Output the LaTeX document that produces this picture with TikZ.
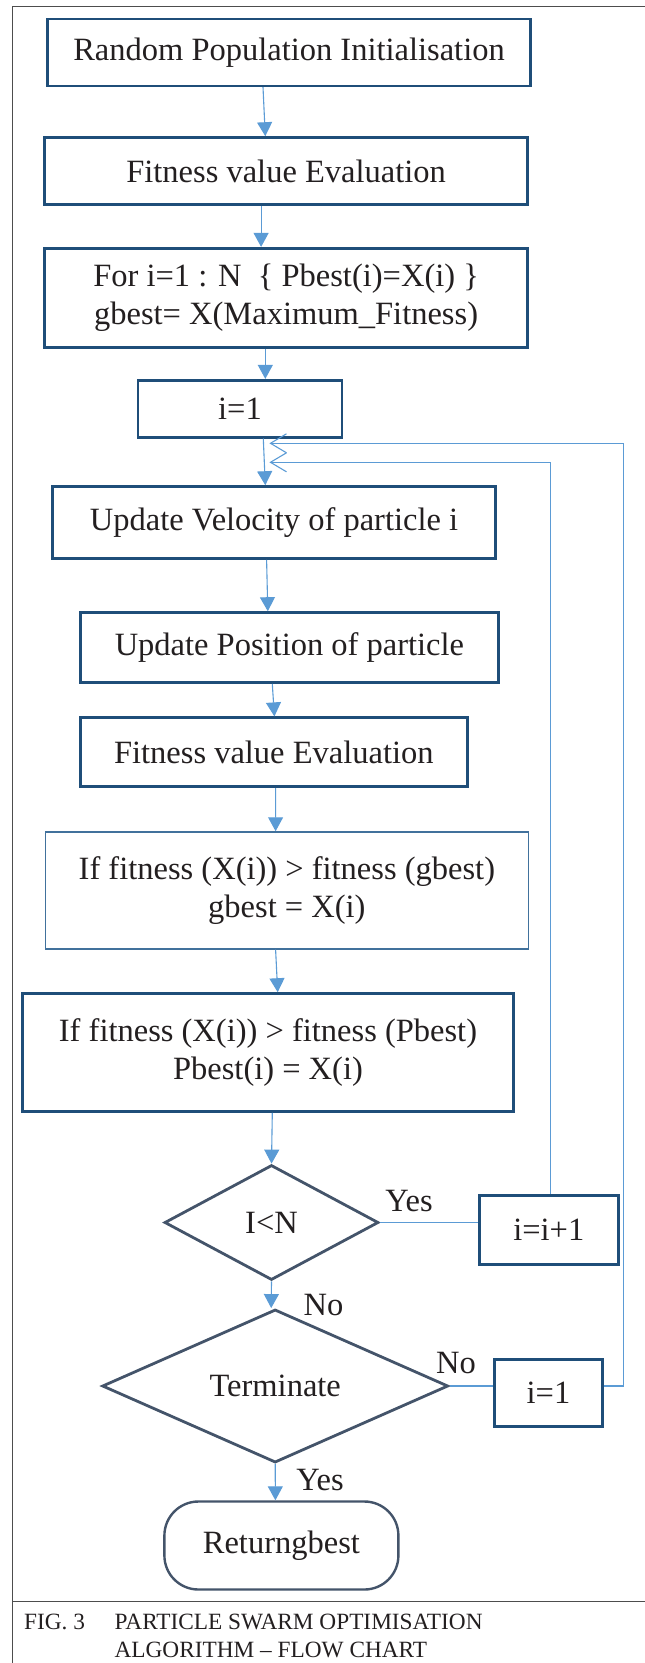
\documentclass[tikz,border=0pt]{standalone}
\usepackage{fontspec}
\setmainfont{Liberation Serif}
\usetikzlibrary{arrows.meta,shapes.geometric}
\definecolor{boxblue}{HTML}{1F4E79}
\definecolor{thinblue}{HTML}{41719C}
\definecolor{arrowblue}{HTML}{5B9BD5}
\definecolor{slate}{HTML}{44546A}
\definecolor{inkc}{HTML}{231F20}
\definecolor{framegray}{HTML}{4D4D4D}

\begin{document}
\begin{tikzpicture}[x=1pt, y=-1pt,
    every node/.style={text=inkc, font=\fontsize{32.5}{38}\selectfont, inner sep=0pt},
    stepbox/.style={rectangle, draw=boxblue, line width=2.6pt, align=center},
    decide/.style={diamond, draw=slate, line width=2.8pt},
    arr/.style={draw=arrowblue, line width=1.1pt, -{Triangle[length=14pt, width=15pt]}},
    loopline/.style={draw=arrowblue, line width=1.1pt},
    barb/.style={-{Straight Barb[length=16pt, width=19pt, line width=1.1pt]}},
    capfont/.style={font=\fontsize{23.3}{29}\selectfont}]
    \useasboundingbox (0,0) rectangle (645,1663);

    % outer frame and caption rule
    \draw[framegray, line width=1.3pt] (645,6.7) -- (12.8,6.7) -- (12.8,1663);
    \draw[framegray, line width=1.3pt] (12.8,1601.7) -- (645,1601.7);

    % process boxes
    \node[stepbox, minimum width=483pt, minimum height=67pt] (init) at (289,52.4) {Random Population Initialisation};
    \node[stepbox, minimum width=483pt, minimum height=67pt] (evalA) at (286.1,171) {Fitness value Evaluation};
    \node[stepbox, minimum width=483pt, minimum height=99pt] (bestinit) at (286.1,297.7) {For i=1 : N~~\{ Pbest(i)=X(i) \}\\gbest= X(Maximum\_Fitness)};
    \node[stepbox, minimum width=204pt, minimum height=57pt] (istart) at (240,408.7) {i=1};
    \node[stepbox, minimum width=443pt, minimum height=72pt] (velo) at (274,522.5) {Update Velocity of particle i};
    \node[stepbox, minimum width=418pt, minimum height=70pt] (posn) at (289.4,647.5) {Update Position of particle};
    \node[stepbox, minimum width=387pt, minimum height=69pt] (evalB) at (273.8,752.2) {Fitness value Evaluation};
    \node[stepbox, draw=thinblue, line width=1.3pt, minimum width=483pt, minimum height=117pt] (gcheck) at (286.9,890.4) {If fitness (X(i)) > fitness (gbest)\\gbest = X(i)};
    \node[stepbox, minimum width=491pt, minimum height=118pt] (pcheck) at (268,1052.5) {If fitness (X(i)) > fitness (Pbest)\\Pbest(i) = X(i)};

    % decisions
    \node[decide, minimum width=214pt, minimum height=115pt] (less) at (271.5,1222.5) {I<N};
    \node[stepbox, minimum width=139pt, minimum height=69pt] (incr) at (548.8,1230) {i=i+1};
    \node[decide, minimum width=346pt, minimum height=118pt] (term) at (275.2,1386) {Terminate};
    \node[stepbox, minimum width=108pt, minimum height=67pt] (ireset) at (548.5,1392.7) {i=1};
    \node[rectangle, draw=slate, line width=2.4pt, rounded corners=34pt, minimum width=234pt, minimum height=88pt] (ret) at (281.4,1545.5) {Returngbest};

    % main flow
    \draw[arr] ([xshift=-26pt]init.south) -- ([xshift=-20.8pt]evalA.north);
    \draw[arr] ([xshift=-25pt]evalA.south) -- ([xshift=-25pt]bestinit.north);
    \draw[arr] ([xshift=-20.8pt]bestinit.south) -- ([xshift=25.3pt]istart.north);
    \draw[arr] ([xshift=23.3pt]istart.south) -- ([xshift=-8.7pt]velo.north);
    \draw[arr] ([xshift=-7.4pt]velo.south) -- ([xshift=-21.6pt]posn.north);
    \draw[arr] ([xshift=-17.1pt]posn.south) -- ([xshift=0.6pt]evalB.north);
    \draw[arr] ([xshift=1.8pt]evalB.south) -- ([xshift=-11.3pt]gcheck.north);
    \draw[arr] ([xshift=-11.3pt]gcheck.south) -- ([xshift=9.7pt]pcheck.north);
    \draw[arr] ([xshift=4.3pt]pcheck.south) -- (less.north);
    \draw[arr] (less.south) -- ([xshift=-4pt]term.north);
    \draw[arr] (term.south) -- ([xshift=-6pt]ret.north);

    % loop back lines
    \coordinate (hitA) at (269.4,462.3);
    \coordinate (hitB) at (269.4,443.3);
    \draw[loopline] (less.east) -- (less.east -| incr.west);
    \draw[loopline, barb] ([xshift=2pt]incr.north) |- (hitA);
    \draw[loopline] (term.east) -- (term.east -| ireset.west);
    \draw[loopline, barb] (term.east -| ireset.east) -- ++(20,0) |- (hitB);

    % branch labels
    \node (yesA) at (409,1201) {Yes};
    \node (noA) at (323.6,1305) {No};
    \node (noB) at (456,1363) {No};
    \node (yesB) at (320,1480) {Yes};

    % caption
    \node[capfont, anchor=base west] (fig) at (23.9,1629) {FIG. 3};
    \node[capfont, anchor=base west] (capA) at (114.4,1629) {PARTICLE SWARM OPTIMISATION};
    \node[capfont, anchor=base west] (capB) at (114.4,1657.5) {ALGORITHM – FLOW CHART};
\end{tikzpicture}
\end{document}
